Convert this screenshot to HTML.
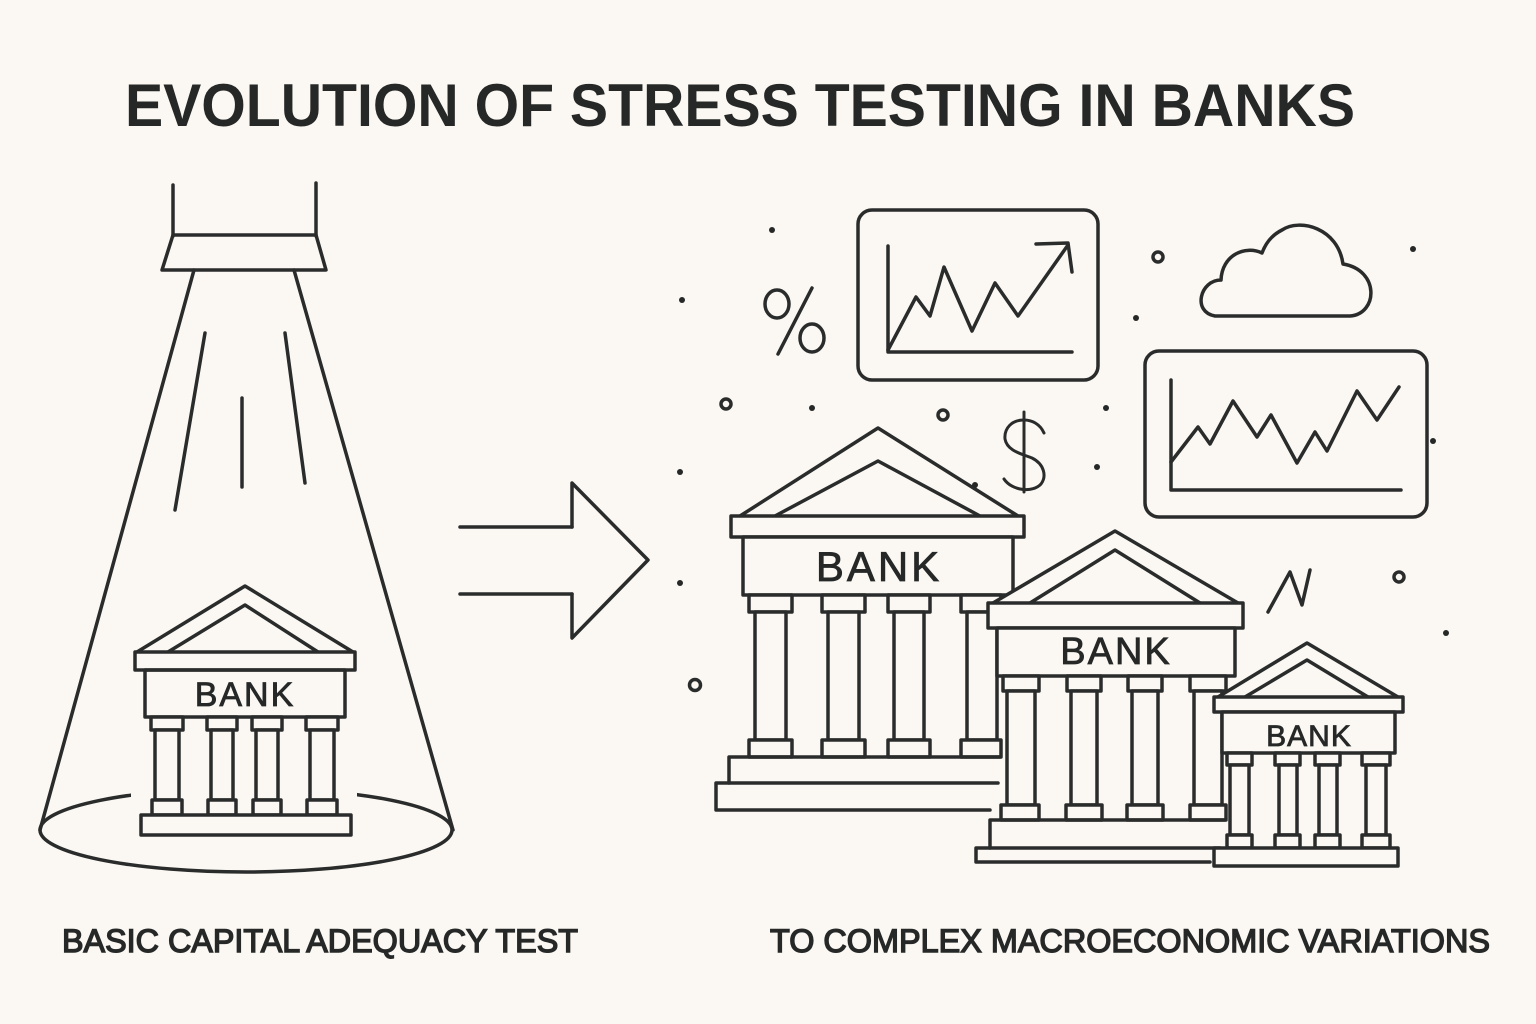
<!DOCTYPE html>
<html><head><meta charset="utf-8"><style>
html,body{margin:0;padding:0;background:#fbf8f3;}
svg{display:block;}
</style></head><body>
<svg width="1536" height="1024" viewBox="0 0 1536 1024" xmlns="http://www.w3.org/2000/svg">
<rect width="1536" height="1024" fill="#fbf8f3"/>
<g fill="#262828" font-family="Liberation Sans, sans-serif">
<text x="125" y="126" font-size="60" font-weight="bold" textLength="1230" lengthAdjust="spacingAndGlyphs">EVOLUTION OF STRESS TESTING IN BANKS</text>
<text x="62" y="952" font-size="32" textLength="516" lengthAdjust="spacingAndGlyphs" stroke="#262828" stroke-width="1.4">BASIC CAPITAL ADEQUACY TEST</text>
<text x="770" y="952" font-size="32" textLength="720" lengthAdjust="spacingAndGlyphs" stroke="#262828" stroke-width="1.4">TO COMPLEX MACROECONOMIC VARIATIONS</text>
</g>
<g fill="none" stroke="#2a2c2c" stroke-width="3.5" stroke-linejoin="round" stroke-linecap="round">
<!-- spotlight -->
<line x1="173" y1="185" x2="173" y2="236"/><line x1="316" y1="183" x2="316" y2="236"/>
<path d="M173,235 H316 L326,270 H162 Z"/>
<line x1="194" y1="270" x2="40" y2="830"/><line x1="294" y1="270" x2="453" y2="830"/>
<line x1="205" y1="333" x2="175" y2="510"/><line x1="242" y1="398" x2="242" y2="487"/><line x1="285" y1="333" x2="305" y2="483"/>
<ellipse cx="246" cy="830" rx="206" ry="42"/>
<rect x="131" y="775" width="226" height="38" fill="#fbf8f3" stroke="none"/>
<!-- small bank left -->
<path d="M137,652 L245,586 L353,652"/><path d="M168,652 L245,605 L318,652"/>
<rect x="135" y="652" width="220" height="18" fill="#fbf8f3"/>
<rect x="145" y="670" width="200" height="47"/>
<g fill="#fbf8f3">
<rect x="151" y="717" width="32" height="13"/><rect x="207" y="717" width="30" height="13"/><rect x="252" y="717" width="30" height="13"/><rect x="306" y="717" width="32" height="13"/>
<rect x="155" y="730" width="24" height="70"/><rect x="211" y="730" width="22" height="70"/><rect x="256" y="730" width="22" height="70"/><rect x="310" y="730" width="24" height="70"/>
<rect x="152" y="800" width="30" height="15"/><rect x="208" y="800" width="28" height="15"/><rect x="253" y="800" width="28" height="15"/><rect x="307" y="800" width="30" height="15"/>
<rect x="141" y="815" width="210" height="20"/>
</g>
<!-- arrow -->
<line x1="460" y1="527" x2="572" y2="527"/><line x1="460" y1="594" x2="572" y2="594"/>
<path d="M572,527 V483 L648,560 L572,638 V594"/>
<!-- chart 1 -->
<rect x="858" y="210" width="240" height="170" rx="14"/>
<path d="M888,246 V352 H1072"/>
<path d="M888,350 L916,297 L930,316 L944,267 L972,331 L995,283 L1018,316 L1068,245"/>
<path d="M1036,244 L1068,243 L1072,272"/>
<!-- chart 2 -->
<rect x="1145" y="351" width="282" height="166" rx="14"/>
<path d="M1171,380 V490 H1401"/>
<path d="M1171,462 L1198,427 L1210,444 L1233,401 L1257,437 L1271,415 L1297,463 L1315,432 L1327,451 L1357,391 L1377,420 L1399,387"/>
<!-- cloud -->
<path d="M1215,316 H1350 C1378,314 1380,270 1343,264 C1338,228 1300,218 1282,230 C1270,236 1265,245 1262,253 C1245,245 1222,255 1221,280 C1200,280 1192,312 1215,316 Z"/>
<!-- percent -->
<ellipse cx="777" cy="304" rx="12" ry="14"/><ellipse cx="812" cy="338" rx="12" ry="14"/><line x1="812" y1="288" x2="778" y2="354"/>
<!-- dollar -->
<path d="M1044,433 C1040,424 1032,420 1024,420 C1012,420 1004,428 1005,439 C1007,451 1022,454 1032,458 C1044,464 1047,476 1041,484 C1033,493 1012,491 1004,479" stroke-width="3"/>
<line x1="1024" y1="412" x2="1024" y2="492" stroke-width="3"/>
<!-- zig -->
<path d="M1268,612 L1290,572 L1302,605 L1310,570"/>
<!-- circles -->
<circle cx="726" cy="404" r="5"/><circle cx="943" cy="415" r="5"/><circle cx="1158" cy="257" r="5"/><circle cx="1399" cy="577" r="5"/><circle cx="695" cy="685" r="5.5"/>
<!-- bank 1 -->
<path d="M740,516 L878,428 L1018,516" fill="#fbf8f3"/><path d="M775,516 L878,461 L980,516"/>
<rect x="731" y="516" width="293" height="21" fill="#fbf8f3"/>
<rect x="743" y="537" width="270" height="58" fill="#fbf8f3"/>
<g fill="#fbf8f3">
<rect x="749" y="595" width="43" height="17"/><rect x="822" y="595" width="43" height="17"/><rect x="888" y="595" width="42" height="17"/><rect x="961" y="595" width="40" height="17"/>
<rect x="755" y="612" width="31" height="128"/><rect x="828" y="612" width="31" height="128"/><rect x="894" y="612" width="30" height="128"/><rect x="967" y="612" width="30" height="128"/>
<rect x="749" y="740" width="43" height="17"/><rect x="822" y="740" width="43" height="17"/><rect x="888" y="740" width="42" height="17"/><rect x="961" y="740" width="40" height="17"/>
</g>
<path d="M1000,757 H729 V783 H716 V810 H990"/><line x1="729" y1="783" x2="998" y2="783"/>
<!-- bank 2 -->
<path d="M993,603 L1115,531 L1238,603" fill="#fbf8f3"/><path d="M1030,603 L1115,550 L1200,603"/>
<rect x="988" y="603" width="255" height="25" fill="#fbf8f3"/>
<rect x="997" y="628" width="238" height="48" fill="#fbf8f3"/>
<g fill="#fbf8f3">
<rect x="1003" y="676" width="36" height="15"/><rect x="1067" y="676" width="34" height="15"/><rect x="1128" y="676" width="34" height="15"/><rect x="1190" y="676" width="36" height="15"/>
<rect x="1007" y="691" width="28" height="114"/><rect x="1071" y="691" width="26" height="114"/><rect x="1132" y="691" width="26" height="114"/><rect x="1194" y="691" width="28" height="114"/>
<rect x="1001" y="805" width="38" height="15"/><rect x="1066" y="805" width="36" height="15"/><rect x="1127" y="805" width="36" height="15"/><rect x="1190" y="805" width="36" height="15"/>
</g>
<path d="M1225,820 H990 V848 H976 V862 H1210"/><line x1="990" y1="848" x2="1220" y2="848"/>
<!-- bank 3 -->
<path d="M1218,697 L1307,643 L1398,697" fill="#fbf8f3"/><path d="M1245,697 L1307,660 L1368,697"/>
<rect x="1214" y="697" width="189" height="15" fill="#fbf8f3"/>
<rect x="1222" y="712" width="173" height="41" fill="#fbf8f3"/>
<g fill="#fbf8f3">
<rect x="1227" y="753" width="25" height="12"/><rect x="1275" y="753" width="25" height="12"/><rect x="1315" y="753" width="25" height="12"/><rect x="1362" y="753" width="28" height="12"/>
<rect x="1230" y="765" width="19" height="70"/><rect x="1279" y="765" width="18" height="70"/><rect x="1319" y="765" width="18" height="70"/><rect x="1366" y="765" width="20" height="70"/>
<rect x="1227" y="835" width="25" height="13"/><rect x="1275" y="835" width="25" height="13"/><rect x="1315" y="835" width="25" height="13"/><rect x="1362" y="835" width="28" height="13"/>
<rect x="1214" y="848" width="184" height="18"/>
</g>
</g>
<g fill="#262828">
<circle cx="772" cy="230" r="3"/><circle cx="682" cy="300" r="3"/><circle cx="1136" cy="318" r="3"/><circle cx="1413" cy="249" r="3"/><circle cx="812" cy="408" r="3"/><circle cx="1106" cy="408" r="3"/><circle cx="680" cy="472" r="3"/><circle cx="975" cy="485" r="3"/><circle cx="1097" cy="467" r="3"/><circle cx="1433" cy="441" r="3"/><circle cx="680" cy="583" r="3"/><circle cx="1446" cy="633" r="3"/>
</g>
<g font-family="Liberation Sans, sans-serif" fill="#262828" text-anchor="middle" stroke="#262828" stroke-width="0.8">
<text x="245" y="706" font-size="34" letter-spacing="2">BANK</text>
<text x="879" y="581" font-size="42" letter-spacing="3">BANK</text>
<text x="1116" y="664" font-size="38" letter-spacing="2">BANK</text>
<text x="1309" y="746" font-size="30" letter-spacing="1">BANK</text>
</g>
</svg>
</body></html>
